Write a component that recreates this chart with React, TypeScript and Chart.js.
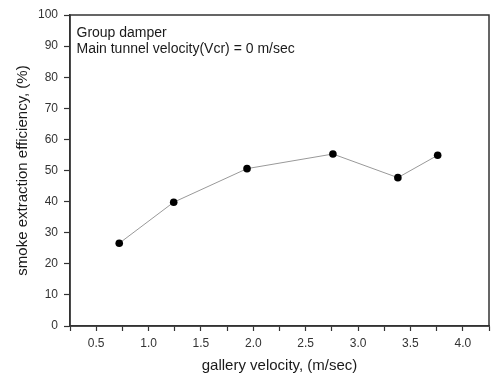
import React, { useEffect, useRef } from "react";
import { Chart, registerables } from "chart.js";

Chart.register(...registerables);

const galleryVelocity = [0.72, 1.24, 1.94, 2.76, 3.38, 3.76];
const extractionEfficiency = [26.6, 39.8, 50.6, 55.3, 47.7, 54.9];
const annotationLines = ["Group damper", "Main tunnel velocity(Vcr) = 0 m/sec"];
const xTitle = "gallery velocity, (m/sec)";
const yTitle = "smoke extraction efficiency, (%)";

const FONT = "'Liberation Sans', Arial, sans-serif";

const framePlugin = {
  id: "frame",
  afterDraw(chart: any) {
    const { ctx, chartArea } = chart;
    ctx.save();
    ctx.strokeStyle = "#333";
    ctx.lineWidth = 1.5;
    ctx.strokeRect(
      Math.round(chartArea.left),
      Math.round(chartArea.top),
      Math.round(chartArea.right - chartArea.left),
      Math.round(chartArea.bottom - chartArea.top)
    );
    ctx.fillStyle = "#1a1a1a";
    ctx.font = `14px ${FONT}`;
    ctx.textBaseline = "alphabetic";
    ctx.textAlign = "left";
    annotationLines.forEach((t, i) => {
      ctx.fillText(t, chartArea.left + 6.5, chartArea.top + 22 + i * 16);
    });
    ctx.restore();
  },
};

export default function App() {
  const ref = useRef<HTMLCanvasElement>(null);
  useEffect(() => {
    if (!ref.current) return;
    Chart.defaults.font.family = FONT;
    const chart = new Chart(ref.current, {
      type: "scatter",
      data: {
        datasets: [
          {
            data: galleryVelocity.map((x, i) => ({ x, y: extractionEfficiency[i] })),
            showLine: true,
            borderColor: "#999",
            borderWidth: 1,
            pointBackgroundColor: "#000",
            pointBorderColor: "#000",
            pointRadius: 3.8,
            pointBorderWidth: 0,
          },
        ],
      },
      options: {
        responsive: false,
        animation: false,
        layout: { padding: { top: 15, right: 4, left: 0, bottom: 0 } },
        plugins: { legend: { display: false }, tooltip: { enabled: false } },
        scales: {
          x: {
            type: "linear",
            min: 0.25,
            max: 4.25,
            afterFit: (s: any) => {
              s.height = 53;
            },
            ticks: {
              stepSize: 0.25,
              autoSkip: false,
              maxRotation: 0,
              padding: 5,
              color: "#333",
              font: { size: 12 },
              callback: (v: any) => {
                const n = Number(v);
                return Math.abs(n * 2 - Math.round(n * 2)) < 1e-6 ? n.toFixed(1) : "";
              },
            },
            grid: {
              drawOnChartArea: false,
              drawTicks: true,
              tickLength: 5,
              tickColor: "#333",
              tickWidth: 1.2,
            },
            border: { display: true, color: "#333", width: 1.5 },
            title: {
              display: true,
              text: xTitle,
              color: "#1a1a1a",
              font: { size: 15 },
              padding: { top: 0, bottom: 4 },
            },
          },
          y: {
            type: "linear",
            min: 0,
            max: 100,
            afterFit: (s: any) => {
              s.width = 70;
            },
            ticks: {
              stepSize: 10,
              padding: 6,
              color: "#333",
              font: { size: 12 },
            },
            grid: {
              drawOnChartArea: false,
              drawTicks: true,
              tickLength: 6,
              tickColor: "#333",
              tickWidth: 1.2,
            },
            border: { display: true, color: "#333", width: 1.5 },
            title: {
              display: true,
              text: yTitle,
              color: "#1a1a1a",
              font: { size: 15 },
              padding: { top: 14, bottom: 0 },
            },
          },
        },
      },
      plugins: [framePlugin],
    });
    return () => chart.destroy();
  }, []);
  return (
    <div style={{ position: "fixed", left: 0, top: 0, width: 494, height: 379, background: "#fff" }}>
      <canvas ref={ref} width={494} height={379} />
    </div>
  );
}
